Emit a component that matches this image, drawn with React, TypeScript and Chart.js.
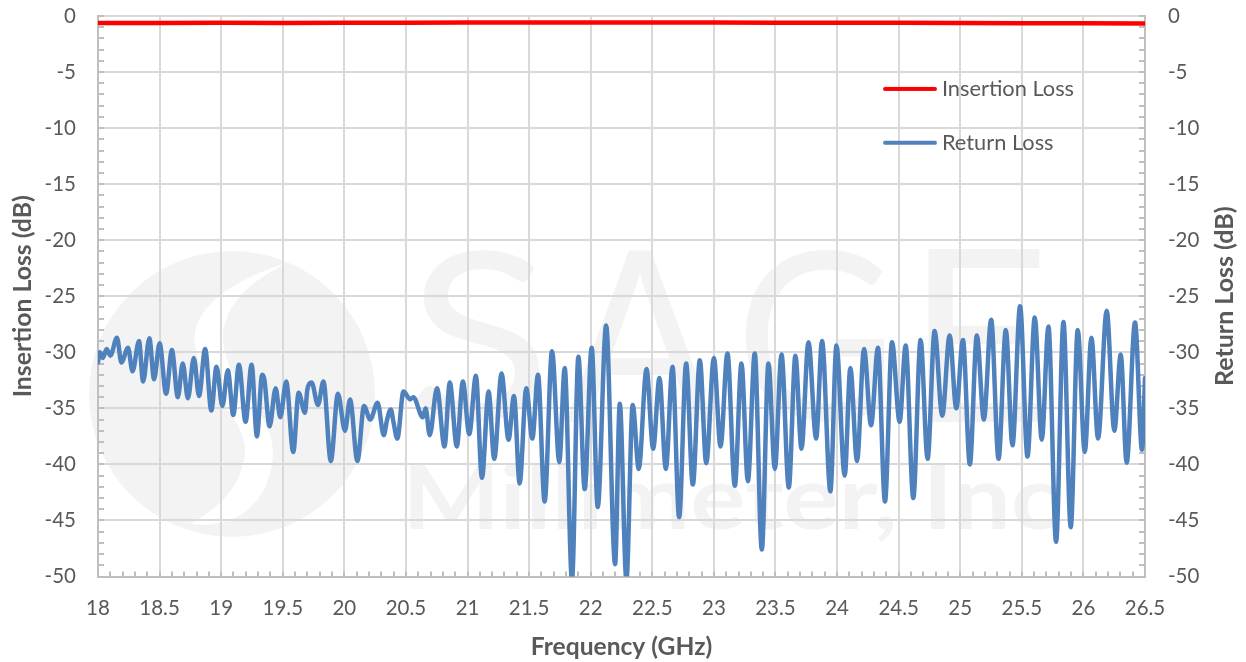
import React, { useEffect, useRef } from "react";
import { Chart, registerables } from "chart.js";

Chart.register(...registerables);

const ilFreq = [18, 18.5, 19, 19.5, 20, 20.5, 21, 21.5, 22, 22.5, 23, 23.5, 24, 24.5, 25, 25.5, 26, 26.5];
const ilValues = [-0.62, -0.63, -0.61, -0.62, -0.6, -0.6, -0.58, -0.59, -0.57, -0.57, -0.58, -0.6, -0.61, -0.6, -0.62, -0.64, -0.65, -0.68];

const rlFreq = [
  18, 18.014, 18.04, 18.07, 18.1, 18.154, 18.19, 18.244, 18.28, 18.333, 18.366, 18.417, 18.455, 18.5, 18.553, 18.6,
  18.648, 18.688, 18.73, 18.778, 18.82, 18.87, 18.92, 18.962, 19.01, 19.054, 19.098, 19.144, 19.198, 19.247, 19.29,
  19.333, 19.35, 19.393, 19.442, 19.48, 19.528, 19.585, 19.629, 19.68, 19.7, 19.734, 19.786, 19.83, 19.89, 19.948,
  20.005, 20.046, 20.106, 20.16, 20.21, 20.27, 20.32, 20.347, 20.377, 20.4, 20.43, 20.48, 20.534, 20.56, 20.637,
  20.66, 20.693, 20.752, 20.813, 20.856, 20.913, 20.962, 21.014, 21.068, 21.117, 21.171, 21.217, 21.276, 21.333,
  21.377, 21.423, 21.477, 21.526, 21.572, 21.626, 21.686, 21.745, 21.789, 21.848, 21.9, 21.951, 22.008, 22.057,
  22.125, 22.198, 22.236, 22.29, 22.341, 22.39, 22.453, 22.507, 22.558, 22.61, 22.664, 22.718, 22.775, 22.829,
  22.886, 22.938, 23, 23.054, 23.11, 23.17, 23.224, 23.276, 23.332, 23.389, 23.443, 23.495, 23.549, 23.608, 23.662,
  23.711, 23.768, 23.83, 23.878, 23.946, 23.995, 24.062, 24.108, 24.162, 24.219, 24.276, 24.332, 24.389, 24.446,
  24.508, 24.557, 24.619, 24.678, 24.735, 24.792, 24.854, 24.914, 24.968, 25.022, 25.078, 25.135, 25.192, 25.251,
  25.311, 25.37, 25.424, 25.486, 25.546, 25.605, 25.662, 25.716, 25.778, 25.838, 25.897, 25.954, 26.011, 26.065,
  26.119, 26.189, 26.251, 26.303, 26.351, 26.419, 26.476, 26.5,
];
const rlValues = [
  -30.9, -30, -30.5, -29.7, -30.3, -28.7, -30.9, -29.6, -31.7, -29, -32.6, -28.75, -32.4, -29.2, -33.7, -29.8,
  -34, -31, -34.1, -30.5, -33.9, -29.7, -35.2, -31.3, -34.8, -31.6, -35.6, -31.1, -36.2, -31.1, -37.5,
  -32, -32.4, -36.6, -33.2, -35.8, -32.6, -38.9, -33.6, -35.4, -33.3, -32.7, -34.7, -32.6, -39.7, -33.7,
  -37, -34.2, -39.7, -34.8, -36, -34.5, -37.4, -36, -35.1, -36.3, -37.7, -33.5, -34.2, -34, -35.8,
  -35, -37.4, -33.2, -38.4, -32.7, -38.4, -32.6, -37.3, -32.1, -41.2, -33.5, -39.5, -31.9, -37.8,
  -33.9, -41.7, -33.2, -37.7, -32, -43.3, -29.9, -39.8, -31.4, -50.3, -30.4, -42.2, -29.6, -43.8,
  -27.6, -48.9, -34.6, -50.3, -34.7, -40.4, -31.5, -38.6, -32.3, -40.4, -31.3, -44.7, -31, -41.8,
  -30.7, -39.9, -30.5, -38.4, -30.1, -41.9, -31, -41.5, -30.1, -47.6, -31, -40.4, -30.2, -42.05, -30.3,
  -38.6, -29.1, -37.7, -29, -42.4, -29.4, -41, -31.4, -39.7, -29.7, -36.5, -29.6, -43.3, -29.1,
  -36.2, -29.4, -43, -28.9, -39.5, -28.1, -35.65, -28.5, -35, -28.9, -40, -28.5, -36, -27.1,
  -39.5, -28, -38.3, -25.9, -39.3, -26.9, -37.8, -27.7, -46.9, -27.3, -45.6, -28, -38.9, -28.7,
  -37.7, -26.3, -37, -30.2, -39.85, -27.35, -38.7, -32.3,
];

const seriesNames = ["Insertion Loss", "Return Loss"];
const seriesColors = ["#FF0000", "#4F81BD"];
const xTitle = "Frequency (GHz)";
const leftTitle = "Insertion Loss (dB)";
const rightTitle = "Return Loss (dB)";
const watermarkLetters = ["S", "A", "G", "E"];
const watermarkName = "Millimeter, Inc";

const FONT = "Lato, sans-serif";
const TEXT = "#595959";
const AXIS = "#BFBFBF";
const GRID = "#D9D9D9";
const WM = "#F3F3F3";

function swatch(color: string) {
  const c = document.createElement("canvas");
  c.width = 60;
  c.height = 6;
  const g = c.getContext("2d")!;
  g.strokeStyle = color;
  g.lineWidth = 4;
  g.lineCap = "round";
  g.beginPath();
  g.moveTo(8, 3);
  g.lineTo(58, 3);
  g.stroke();
  return c;
}

function fitText(ctx: any, text: string, x0: number, x1: number, top: number, bottom: number) {
  const m = ctx.measureText(text);
  const w = m.actualBoundingBoxLeft + m.actualBoundingBoxRight;
  const h = m.actualBoundingBoxAscent + m.actualBoundingBoxDescent;
  const sx = (x1 - x0) / w;
  const sy = (bottom - top) / h;
  ctx.save();
  ctx.translate(x0 + m.actualBoundingBoxLeft * sx, top + m.actualBoundingBoxAscent * sy);
  ctx.scale(sx, sy);
  ctx.fillText(text, 0, 0);
  ctx.restore();
}

const watermark = {
  id: "watermark",
  beforeDraw(chart: any) {
    const ctx = chart.ctx;
    ctx.save();
    ctx.fillStyle = WM;
    ctx.beginPath();
    ctx.arc(232, 394, 143, 0, Math.PI * 2);
    ctx.fill();
    ctx.fillStyle = "#FFFFFF";
    ctx.beginPath();
    ctx.moveTo(290, 262);
    ctx.bezierCurveTo(230, 280, 190, 310, 195, 345);
    ctx.bezierCurveTo(200, 390, 250, 420, 245, 455);
    ctx.bezierCurveTo(240, 490, 215, 510, 190, 524);
    ctx.bezierCurveTo(240, 530, 270, 500, 273, 455);
    ctx.bezierCurveTo(275, 410, 222, 385, 223, 335);
    ctx.bezierCurveTo(225, 300, 260, 275, 290, 262);
    ctx.fill();
    ctx.fillStyle = WM;
    ctx.textBaseline = "alphabetic";
    ctx.textAlign = "left";
    ctx.font = `400 233px ${FONT}`;
    const boxes = [
      [415, 539],
      [565, 715],
      [745, 884],
      [928, 1040],
    ];
    watermarkLetters.forEach((t, i) => fitText(ctx, t, boxes[i][0], boxes[i][1], 250, 422));
    ctx.font = `700 93px ${FONT}`;
    fitText(ctx, watermarkName, 410, 1060, 463, 542);
    ctx.restore();
  },
};

const minorTicks = {
  id: "minorTicks",
  beforeDatasetsDraw(chart: any) {
    const { ctx, chartArea, scales } = chart;
    ctx.save();
    ctx.strokeStyle = AXIS;
    ctx.lineWidth = 2;
    ctx.beginPath();
    for (let v = 0; v <= 50; v++) {
      const y = Math.round(scales.y.getPixelForValue(-v));
      ctx.moveTo(chartArea.left, y);
      ctx.lineTo(chartArea.left + 6, y);
      ctx.moveTo(chartArea.right, y);
      ctx.lineTo(chartArea.right - 6, y);
    }
    for (let i = 0; i <= 85; i++) {
      const x = Math.round(scales.x.getPixelForValue(18 + i / 10));
      ctx.moveTo(x, chartArea.bottom);
      ctx.lineTo(x, chartArea.bottom - 5);
    }
    ctx.stroke();
    ctx.restore();
  },
};

const rightAxisTitle = {
  id: "rightAxisTitle",
  afterDraw(chart: any) {
    const { ctx, chartArea } = chart;
    ctx.save();
    ctx.translate(1225, (chartArea.top + chartArea.bottom) / 2);
    ctx.rotate(-Math.PI / 2);
    ctx.textAlign = "center";
    ctx.textBaseline = "middle";
    ctx.fillStyle = TEXT;
    ctx.font = `bold 25px ${FONT}`;
    ctx.fillText(rightTitle, 0, 0);
    ctx.restore();
  },
};

const placeLegend = {
  id: "placeLegend",
  afterLayout(chart: any) {
    const l = chart.legend;
    if (!l) return;
    l.left = 851;
    l.right = 1120;
    l.top = 46;
    l.bottom = 200;
  },
};

export default function App() {
  const ref = useRef<HTMLCanvasElement>(null);
  useEffect(() => {
    const noPadY = (s: any, width: number) => {
      s.width = width;
      s.paddingTop = 0;
      s.paddingBottom = 0;
    };
    const chart = new Chart(ref.current!, {
      type: "line",
      data: {
        datasets: [
          {
            label: seriesNames[0],
            data: ilFreq.map((x, i) => ({ x, y: ilValues[i] })),
            borderColor: seriesColors[0],
            backgroundColor: seriesColors[0],
            borderWidth: 4.5,
            pointRadius: 0,
            yAxisID: "y",
          },
          {
            label: seriesNames[1],
            data: rlFreq.map((x, i) => ({ x, y: rlValues[i] })),
            borderColor: seriesColors[1],
            backgroundColor: seriesColors[1],
            borderWidth: 4.5,
            pointRadius: 0,
            cubicInterpolationMode: "monotone",
            borderCapStyle: "round",
            borderJoinStyle: "round",
            yAxisID: "y2",
          },
        ] as any,
      },
      options: {
        animation: false,
        responsive: false,
        devicePixelRatio: 1,
        layout: { padding: { top: 16, left: 0, right: 0, bottom: 0 } },
        plugins: {
          tooltip: { enabled: false },
          legend: {
            position: "chartArea" as any,
            align: "start",
            labels: {
              usePointStyle: true,
              pointStyleWidth: 48,
              padding: 32,
              color: TEXT,
              font: { family: FONT, size: 21.8 },
              generateLabels(c: any) {
                return (Chart.defaults.plugins.legend.labels as any)
                  .generateLabels(c)
                  .map((it: any, i: number) => ({ ...it, pointStyle: swatch(seriesColors[i]), lineWidth: 0 }));
              },
            },
          },
        },
        scales: {
          x: {
            type: "linear",
            min: 18,
            max: 26.5,
            afterFit(s: any) {
              s.height = 85.5;
              s.paddingLeft = 0;
              s.paddingRight = 0;
            },
            grid: { color: GRID, lineWidth: 2, drawTicks: false },
            border: { color: AXIS, width: 2 },
            ticks: {
              stepSize: 0.5,
              autoSkip: false,
              maxRotation: 0,
              padding: 20,
              color: TEXT,
              font: { family: FONT, size: 20.5 },
              callback: (v: any) => String(v),
            },
            title: {
              display: true,
              text: xTitle,
              color: TEXT,
              font: { family: FONT, size: 24.6, weight: "bold" },
              padding: { top: 10, bottom: 0 },
            },
          },
          y: {
            type: "linear",
            position: "left",
            min: -50,
            max: 0,
            afterFit(s: any) {
              noPadY(s, 98);
            },
            grid: { color: GRID, lineWidth: 2, drawTicks: false },
            border: { color: AXIS, width: 2 },
            ticks: { stepSize: 5, padding: 22, color: TEXT, font: { family: FONT, size: 20.5 } },
            title: {
              display: true,
              text: leftTitle,
              color: TEXT,
              font: { family: FONT, size: 24.8, weight: "bold" },
              padding: { top: 8, bottom: 0 },
            },
          },
          y2: {
            type: "linear",
            position: "right",
            min: -50,
            max: 0,
            afterFit(s: any) {
              noPadY(s, 101);
            },
            grid: { drawOnChartArea: false, drawTicks: false },
            border: { color: AXIS, width: 2 },
            ticks: { stepSize: 5, padding: 23, color: TEXT, font: { family: FONT, size: 20.5 } },
          },
        },
      } as any,
      plugins: [watermark, minorTicks, placeLegend, rightAxisTitle],
    });
    return () => chart.destroy();
  }, []);
  return (
    <canvas
      ref={ref}
      width={1246}
      height={662}
      style={{ position: "fixed", left: 0, top: 0, display: "block", background: "#FFFFFF" }}
    />
  );
}
